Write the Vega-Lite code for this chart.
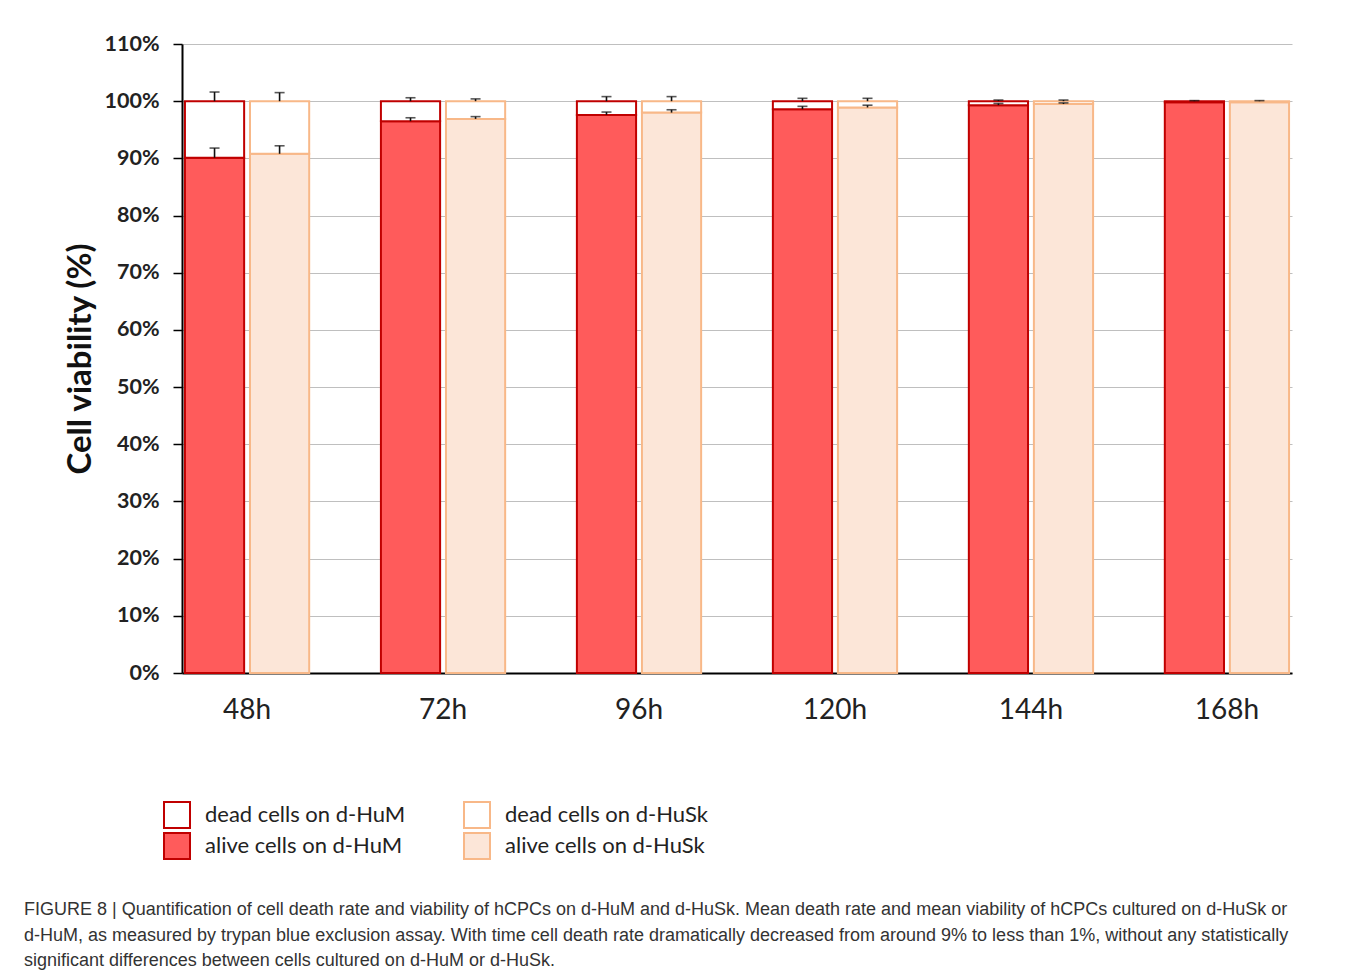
{
  "$schema": "https://vega.github.io/schema/vega-lite/v6.json",
  "autosize": {"type": "none"},
  "width": 1110,
  "height": 629,
  "padding": {"left": 182, "top": 44, "right": 68, "bottom": 305},
  "background": "white",
  "config": {
    "view": {"stroke": null},
    "font": "Lato"
  },
  "title": {
    "text": [
      "FIGURE 8 | Quantification of cell death rate and viability of hCPCs on d-HuM and d-HuSk. Mean death rate and mean viability of hCPCs cultured on d-HuSk or",
      "d-HuM, as measured by trypan blue exclusion assay. With time cell death rate dramatically decreased from around 9% to less than 1%, without any statistically",
      "significant differences between cells cultured on d-HuM or d-HuSk."
    ],
    "orient": "bottom",
    "anchor": "start",
    "frame": "group",
    "dx": -158,
    "offset": 38,
    "font": "Liberation Sans",
    "fontSize": 18,
    "fontWeight": "normal",
    "color": "#333333",
    "lineHeight": 25.5
  },
  "datasets": {
    "bars": [
      {"time": "48h", "substrate": "d-HuM", "status": "alive", "series": "alive cells on d-HuM", "value": 90.1},
      {"time": "48h", "substrate": "d-HuM", "status": "dead", "series": "dead cells on d-HuM", "value": 9.9},
      {"time": "48h", "substrate": "d-HuSk", "status": "alive", "series": "alive cells on d-HuSk", "value": 90.8},
      {"time": "48h", "substrate": "d-HuSk", "status": "dead", "series": "dead cells on d-HuSk", "value": 9.2},
      {"time": "72h", "substrate": "d-HuM", "status": "alive", "series": "alive cells on d-HuM", "value": 96.5},
      {"time": "72h", "substrate": "d-HuM", "status": "dead", "series": "dead cells on d-HuM", "value": 3.5},
      {"time": "72h", "substrate": "d-HuSk", "status": "alive", "series": "alive cells on d-HuSk", "value": 96.9},
      {"time": "72h", "substrate": "d-HuSk", "status": "dead", "series": "dead cells on d-HuSk", "value": 3.1},
      {"time": "96h", "substrate": "d-HuM", "status": "alive", "series": "alive cells on d-HuM", "value": 97.6},
      {"time": "96h", "substrate": "d-HuM", "status": "dead", "series": "dead cells on d-HuM", "value": 2.4},
      {"time": "96h", "substrate": "d-HuSk", "status": "alive", "series": "alive cells on d-HuSk", "value": 98.0},
      {"time": "96h", "substrate": "d-HuSk", "status": "dead", "series": "dead cells on d-HuSk", "value": 2.0},
      {"time": "120h", "substrate": "d-HuM", "status": "alive", "series": "alive cells on d-HuM", "value": 98.6},
      {"time": "120h", "substrate": "d-HuM", "status": "dead", "series": "dead cells on d-HuM", "value": 1.4},
      {"time": "120h", "substrate": "d-HuSk", "status": "alive", "series": "alive cells on d-HuSk", "value": 98.9},
      {"time": "120h", "substrate": "d-HuSk", "status": "dead", "series": "dead cells on d-HuSk", "value": 1.1},
      {"time": "144h", "substrate": "d-HuM", "status": "alive", "series": "alive cells on d-HuM", "value": 99.3},
      {"time": "144h", "substrate": "d-HuM", "status": "dead", "series": "dead cells on d-HuM", "value": 0.7},
      {"time": "144h", "substrate": "d-HuSk", "status": "alive", "series": "alive cells on d-HuSk", "value": 99.5},
      {"time": "144h", "substrate": "d-HuSk", "status": "dead", "series": "dead cells on d-HuSk", "value": 0.5},
      {"time": "168h", "substrate": "d-HuM", "status": "alive", "series": "alive cells on d-HuM", "value": 99.8},
      {"time": "168h", "substrate": "d-HuM", "status": "dead", "series": "dead cells on d-HuM", "value": 0.2},
      {"time": "168h", "substrate": "d-HuSk", "status": "alive", "series": "alive cells on d-HuSk", "value": 99.8},
      {"time": "168h", "substrate": "d-HuSk", "status": "dead", "series": "dead cells on d-HuSk", "value": 0.2}
    ],
    "errors": [
      {"time": "48h", "substrate": "d-HuM", "mean": 100, "upper": 101.6},
      {"time": "48h", "substrate": "d-HuM", "mean": 90.1, "upper": 91.8},
      {"time": "48h", "substrate": "d-HuSk", "mean": 100, "upper": 101.5},
      {"time": "48h", "substrate": "d-HuSk", "mean": 90.8, "upper": 92.2},
      {"time": "72h", "substrate": "d-HuM", "mean": 100, "upper": 100.6},
      {"time": "72h", "substrate": "d-HuM", "mean": 96.5, "upper": 97.1},
      {"time": "72h", "substrate": "d-HuSk", "mean": 100, "upper": 100.4},
      {"time": "72h", "substrate": "d-HuSk", "mean": 96.9, "upper": 97.3},
      {"time": "96h", "substrate": "d-HuM", "mean": 100, "upper": 100.8},
      {"time": "96h", "substrate": "d-HuM", "mean": 97.6, "upper": 98.1},
      {"time": "96h", "substrate": "d-HuSk", "mean": 100, "upper": 100.8},
      {"time": "96h", "substrate": "d-HuSk", "mean": 98.0, "upper": 98.5},
      {"time": "120h", "substrate": "d-HuM", "mean": 100, "upper": 100.5},
      {"time": "120h", "substrate": "d-HuM", "mean": 98.6, "upper": 99.1},
      {"time": "120h", "substrate": "d-HuSk", "mean": 100, "upper": 100.5},
      {"time": "120h", "substrate": "d-HuSk", "mean": 98.9, "upper": 99.3},
      {"time": "144h", "substrate": "d-HuM", "mean": 100, "upper": 100.2},
      {"time": "144h", "substrate": "d-HuM", "mean": 99.3, "upper": 99.6},
      {"time": "144h", "substrate": "d-HuSk", "mean": 100, "upper": 100.2},
      {"time": "144h", "substrate": "d-HuSk", "mean": 99.5, "upper": 99.7},
      {"time": "168h", "substrate": "d-HuM", "mean": 100, "upper": 100.1},
      {"time": "168h", "substrate": "d-HuSk", "mean": 100, "upper": 100.1}
    ]
  },
  "encoding": {
    "x": {
      "field": "time",
      "type": "nominal",
      "sort": ["48h", "72h", "96h", "120h", "144h", "168h"],
      "scale": {"paddingInner": 0.366, "paddingOuter": 0.015},
      "axis": {
        "title": null,
        "labelAngle": 0,
        "labelFont": "Lato",
        "labelFontSize": 28,
        "labelColor": "#222222",
        "labelPadding": 23,
        "ticks": false,
        "domainColor": "#000000",
        "domainWidth": 2,
        "grid": false
      }
    },
    "xOffset": {
      "field": "substrate",
      "type": "nominal",
      "sort": ["d-HuM", "d-HuSk"],
      "scale": {"paddingInner": 0.09, "paddingOuter": 0}
    }
  },
  "layer": [
    {
      "data": {"name": "bars"},
      "mark": {"type": "bar", "strokeWidth": 2, "strokeJoin": "miter"},
      "encoding": {
        "y": {
          "field": "value",
          "type": "quantitative",
          "stack": "zero",
          "scale": {"domain": [0, 110], "nice": false},
          "axis": {
            "title": "Cell viability (%)",
            "titleFont": "Lato",
            "titleFontSize": 33,
            "titleFontWeight": "bold",
            "titleColor": "#111111",
            "titlePadding": 6,
            "values": [0, 10, 20, 30, 40, 50, 60, 70, 80, 90, 100, 110],
            "labelExpr": "datum.value + '%'",
            "labelFont": "Lato",
            "labelFontSize": 21.5,
            "labelFontWeight": "bold",
            "labelColor": "#222222",
            "labelPadding": 14,
            "tickColor": "#000000",
            "tickSize": 9,
            "tickWidth": 1.5,
            "domainColor": "#000000",
            "domainWidth": 2,
            "gridColor": "#bfbfbf",
            "gridWidth": 1.2
          }
        },
        "order": {"field": "status", "sort": "ascending"},
        "fill": {
          "field": "series",
          "type": "nominal",
          "scale": {
            "domain": ["dead cells on d-HuM", "alive cells on d-HuM", "dead cells on d-HuSk", "alive cells on d-HuSk"],
            "range": ["#ffffff", "#ff5b5b", "#ffffff", "#fce6d8"]
          },
          "legend": {
            "title": null,
            "orient": "none",
            "legendX": -19,
            "legendY": 757,
            "columns": 2,
            "columnPadding": 54,
            "rowPadding": -4,
            "padding": 0,
            "symbolType": "square",
            "symbolSize": 676,
            "symbolStrokeWidth": 2,
            "symbolOpacity": 1,
            "labelFont": "Lato",
            "labelFontSize": 22,
            "labelLimit": 500,
            "labelColor": "#222222",
            "labelOffset": 14
          }
        },
        "stroke": {
          "field": "series",
          "type": "nominal",
          "scale": {
            "domain": ["dead cells on d-HuM", "alive cells on d-HuM", "dead cells on d-HuSk", "alive cells on d-HuSk"],
            "range": ["#c00000", "#c00000", "#f8b888", "#f8b888"]
          }
        }
      }
    },
    {
      "data": {"name": "errors"},
      "mark": {"type": "rule", "color": "#111111", "strokeWidth": 1.6},
      "encoding": {
        "y": {"field": "mean", "type": "quantitative"},
        "y2": {"field": "upper"}
      }
    },
    {
      "data": {"name": "errors"},
      "mark": {"type": "tick", "color": "#111111", "thickness": 1.6, "size": 10},
      "encoding": {
        "y": {"field": "upper", "type": "quantitative"}
      }
    }
  ]
}
